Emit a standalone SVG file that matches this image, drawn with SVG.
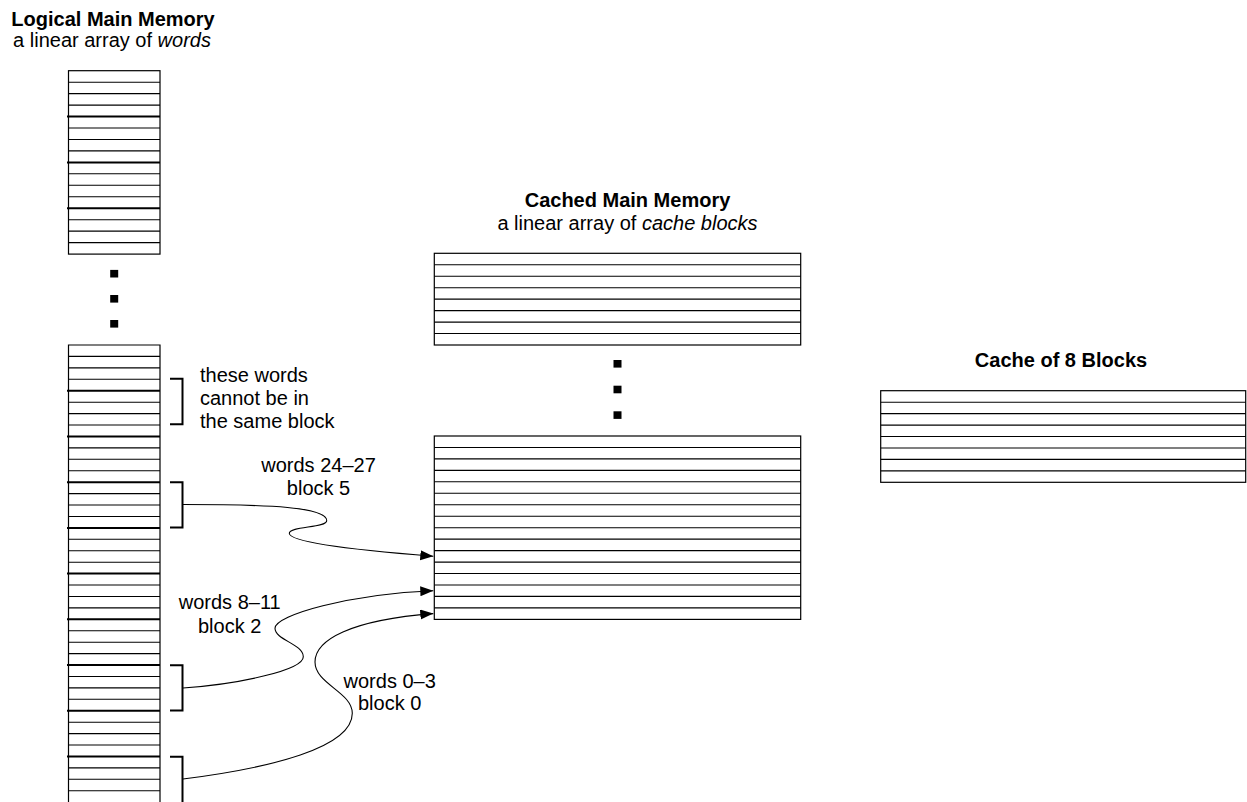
<svg xmlns="http://www.w3.org/2000/svg" width="1247" height="802" viewBox="0 0 1247 802">
  <style>
    .bg { fill: #ffffff; }
    .box { fill: #ffffff; stroke: #000; stroke-width: 1.2; }
    .row { stroke: #000; stroke-width: 1.1; }
    .blk { stroke: #000; stroke-width: 2; }
    .dot { fill: #000; }
    .bracket { fill: none; stroke: #000; stroke-width: 2; }
    .wire { fill: none; stroke: #000; stroke-width: 1.1; marker-end: url(#arrow); }
    text { font-family: "Liberation Sans", Arial, Helvetica, sans-serif; font-size: 20px; fill: #000; }
    .title { font-weight: bold; text-anchor: middle; }
    .sub { text-anchor: middle; }
    .mid { text-anchor: middle; }
    .it { font-style: italic; }
  </style>
  <defs>
    <marker id="arrow" markerUnits="userSpaceOnUse" markerWidth="14" markerHeight="11" refX="13" refY="5" orient="auto">
      <path d="M0,0 L13,5 L0,10 Z" fill="#000"/>
    </marker>
  </defs>

  <rect class="bg" x="0" y="0" width="1247" height="802"/>

  <!-- Logical main memory: one row per word, heavier rule every 4 words -->
  <g id="logical-memory">
    <text class="title" x="113" y="26">Logical Main Memory</text>
    <text class="sub" x="112" y="47">a linear array of <tspan class="it">words</tspan></text>

    <g id="logical-top">
      <rect class="box" x="68.5" y="70.7" width="91.5" height="183.4"/>
      <line class="row" x1="68.5" x2="160" y1="82.2" y2="82.2"/>
      <line class="row" x1="68.5" x2="160" y1="93.6" y2="93.6"/>
      <line class="row" x1="68.5" x2="160" y1="105.1" y2="105.1"/>
      <line class="blk" x1="67" x2="160" y1="116.5" y2="116.5"/>
      <line class="row" x1="68.5" x2="160" y1="128" y2="128"/>
      <line class="row" x1="68.5" x2="160" y1="139.5" y2="139.5"/>
      <line class="row" x1="68.5" x2="160" y1="150.9" y2="150.9"/>
      <line class="blk" x1="67" x2="160" y1="162.4" y2="162.4"/>
      <line class="row" x1="68.5" x2="160" y1="173.8" y2="173.8"/>
      <line class="row" x1="68.5" x2="160" y1="185.3" y2="185.3"/>
      <line class="row" x1="68.5" x2="160" y1="196.8" y2="196.8"/>
      <line class="blk" x1="67" x2="160" y1="208.2" y2="208.2"/>
      <line class="row" x1="68.5" x2="160" y1="219.7" y2="219.7"/>
      <line class="row" x1="68.5" x2="160" y1="231.1" y2="231.1"/>
      <line class="row" x1="68.5" x2="160" y1="242.6" y2="242.6"/>
    </g>

    <g id="logical-gap">
      <rect class="dot" x="110.2" y="269.9" width="8" height="7.6"/>
      <rect class="dot" x="110.2" y="295" width="8" height="7.6"/>
      <rect class="dot" x="110.2" y="320" width="8" height="7.6"/>
    </g>

    <g id="logical-bottom">
      <path class="box" d="M68.5,803 V345 H160 V803"/>
      <line class="row" x1="68.5" x2="160" y1="356.4" y2="356.4"/>
      <line class="row" x1="68.5" x2="160" y1="367.9" y2="367.9"/>
      <line class="row" x1="68.5" x2="160" y1="379.3" y2="379.3"/>
      <line class="blk" x1="67" x2="160" y1="390.7" y2="390.7"/>
      <line class="row" x1="68.5" x2="160" y1="402.2" y2="402.2"/>
      <line class="row" x1="68.5" x2="160" y1="413.6" y2="413.6"/>
      <line class="row" x1="68.5" x2="160" y1="425" y2="425"/>
      <line class="blk" x1="67" x2="160" y1="436.4" y2="436.4"/>
      <line class="row" x1="68.5" x2="160" y1="447.9" y2="447.9"/>
      <line class="row" x1="68.5" x2="160" y1="459.3" y2="459.3"/>
      <line class="row" x1="68.5" x2="160" y1="470.7" y2="470.7"/>
      <line class="blk" x1="67" x2="160" y1="482.2" y2="482.2"/>
      <line class="row" x1="68.5" x2="160" y1="493.6" y2="493.6"/>
      <line class="row" x1="68.5" x2="160" y1="505" y2="505"/>
      <line class="row" x1="68.5" x2="160" y1="516.5" y2="516.5"/>
      <line class="blk" x1="67" x2="160" y1="527.9" y2="527.9"/>
      <line class="row" x1="68.5" x2="160" y1="539.3" y2="539.3"/>
      <line class="row" x1="68.5" x2="160" y1="550.7" y2="550.7"/>
      <line class="row" x1="68.5" x2="160" y1="562.2" y2="562.2"/>
      <line class="blk" x1="67" x2="160" y1="573.6" y2="573.6"/>
      <line class="row" x1="68.5" x2="160" y1="585" y2="585"/>
      <line class="row" x1="68.5" x2="160" y1="596.5" y2="596.5"/>
      <line class="row" x1="68.5" x2="160" y1="607.9" y2="607.9"/>
      <line class="blk" x1="67" x2="160" y1="619.3" y2="619.3"/>
      <line class="row" x1="68.5" x2="160" y1="630.8" y2="630.8"/>
      <line class="row" x1="68.5" x2="160" y1="642.2" y2="642.2"/>
      <line class="row" x1="68.5" x2="160" y1="653.6" y2="653.6"/>
      <line class="blk" x1="67" x2="160" y1="665" y2="665"/>
      <line class="row" x1="68.5" x2="160" y1="676.5" y2="676.5"/>
      <line class="row" x1="68.5" x2="160" y1="687.9" y2="687.9"/>
      <line class="row" x1="68.5" x2="160" y1="699.3" y2="699.3"/>
      <line class="blk" x1="67" x2="160" y1="710.8" y2="710.8"/>
      <line class="row" x1="68.5" x2="160" y1="722.2" y2="722.2"/>
      <line class="row" x1="68.5" x2="160" y1="733.6" y2="733.6"/>
      <line class="row" x1="68.5" x2="160" y1="745" y2="745"/>
      <line class="blk" x1="67" x2="160" y1="756.5" y2="756.5"/>
      <line class="row" x1="68.5" x2="160" y1="767.9" y2="767.9"/>
      <line class="row" x1="68.5" x2="160" y1="779.3" y2="779.3"/>
      <line class="row" x1="68.5" x2="160" y1="790.8" y2="790.8"/>
    </g>
  </g>

  <!-- Brackets grouping words -->
  <g id="bracket-same-block">
    <path class="bracket" d="M170,378.8 H182.5 V424.3 H170"/>
    <text x="200" y="381.7">these words</text>
    <text x="200" y="405">cannot be in</text>
    <text x="200" y="428.3">the same block</text>
  </g>
  <g id="bracket-block5">
    <path class="bracket" d="M170,482.2 H182.5 V527.4 H170"/>
    <text class="mid" x="318.5" y="472.3">words 24–27</text>
    <text class="mid" x="318.5" y="495">block 5</text>
  </g>
  <g id="bracket-block2">
    <path class="bracket" d="M170,665.2 H182.5 V710.5 H170"/>
    <text class="mid" x="229.7" y="609.3">words 8–11</text>
    <text class="mid" x="229.7" y="633.3">block 2</text>
  </g>
  <g id="bracket-block0">
    <path class="bracket" d="M170,756.7 H182.5 V803"/>
    <text class="mid" x="389.7" y="687.7">words 0–3</text>
    <text class="mid" x="389.7" y="710">block 0</text>
  </g>

  <!-- Cached main memory: one row per cache block -->
  <g id="cached-memory">
    <text class="title" x="627.5" y="207.3">Cached Main Memory</text>
    <text class="sub" x="627.5" y="230">a linear array of <tspan class="it">cache blocks</tspan></text>

    <g id="cached-top">
      <rect class="box" x="434.3" y="253.3" width="366.4" height="91.7"/>
      <line class="row" x1="434.3" x2="800.7" y1="264.8" y2="264.8"/>
      <line class="row" x1="434.3" x2="800.7" y1="276.2" y2="276.2"/>
      <line class="row" x1="434.3" x2="800.7" y1="287.7" y2="287.7"/>
      <line class="row" x1="434.3" x2="800.7" y1="299.1" y2="299.1"/>
      <line class="row" x1="434.3" x2="800.7" y1="310.6" y2="310.6"/>
      <line class="row" x1="434.3" x2="800.7" y1="322.1" y2="322.1"/>
      <line class="row" x1="434.3" x2="800.7" y1="333.5" y2="333.5"/>
    </g>

    <g id="cached-gap">
      <rect class="dot" x="613.5" y="360" width="8" height="7.6"/>
      <rect class="dot" x="613.5" y="385.7" width="8" height="7.6"/>
      <rect class="dot" x="613.5" y="411.3" width="8" height="7.6"/>
    </g>

    <g id="cached-bottom">
      <rect class="box" x="434.3" y="436" width="366.4" height="183.4"/>
      <line class="row" x1="434.3" x2="800.7" y1="447.5" y2="447.5"/>
      <line class="row" x1="434.3" x2="800.7" y1="458.9" y2="458.9"/>
      <line class="row" x1="434.3" x2="800.7" y1="470.4" y2="470.4"/>
      <line class="row" x1="434.3" x2="800.7" y1="481.8" y2="481.8"/>
      <line class="row" x1="434.3" x2="800.7" y1="493.3" y2="493.3"/>
      <line class="row" x1="434.3" x2="800.7" y1="504.8" y2="504.8"/>
      <line class="row" x1="434.3" x2="800.7" y1="516.2" y2="516.2"/>
      <line class="row" x1="434.3" x2="800.7" y1="527.7" y2="527.7"/>
      <line class="row" x1="434.3" x2="800.7" y1="539.1" y2="539.1"/>
      <line class="row" x1="434.3" x2="800.7" y1="550.6" y2="550.6"/>
      <line class="row" x1="434.3" x2="800.7" y1="562.1" y2="562.1"/>
      <line class="row" x1="434.3" x2="800.7" y1="573.5" y2="573.5"/>
      <line class="row" x1="434.3" x2="800.7" y1="585" y2="585"/>
      <line class="row" x1="434.3" x2="800.7" y1="596.4" y2="596.4"/>
      <line class="row" x1="434.3" x2="800.7" y1="607.9" y2="607.9"/>
    </g>
  </g>

  <!-- The cache itself: 8 block slots -->
  <g id="cache">
    <text class="title" x="1061" y="367.3">Cache of 8 Blocks</text>
    <rect class="box" x="880.7" y="390.7" width="365" height="91.6"/>
    <line class="row" x1="880.7" x2="1245.7" y1="402.2" y2="402.2"/>
    <line class="row" x1="880.7" x2="1245.7" y1="413.6" y2="413.6"/>
    <line class="row" x1="880.7" x2="1245.7" y1="425.1" y2="425.1"/>
    <line class="row" x1="880.7" x2="1245.7" y1="436.5" y2="436.5"/>
    <line class="row" x1="880.7" x2="1245.7" y1="448" y2="448"/>
    <line class="row" x1="880.7" x2="1245.7" y1="459.4" y2="459.4"/>
    <line class="row" x1="880.7" x2="1245.7" y1="470.9" y2="470.9"/>
  </g>

  <!-- Word groups mapped onto cache blocks -->
  <g id="connectors">
    <path class="wire" d="M183,504.5 C270,504.5 326.7,507 326.7,520.7 C326.7,528 289.3,526 289.3,533.3 C289.3,543 360,550.5 433.3,556.3"/>
    <path class="wire" d="M183,688 C240,684 303.3,670 303.3,656.7 C303.3,644 275,640 275,628.3 C275,615 350,594 433.3,590.7"/>
    <path class="wire" d="M183,779 C270,768 352.3,748 352.3,713.3 C352.3,692 315,684 315,662 C315,640 350,620 433.3,613.6"/>
  </g>
</svg>
